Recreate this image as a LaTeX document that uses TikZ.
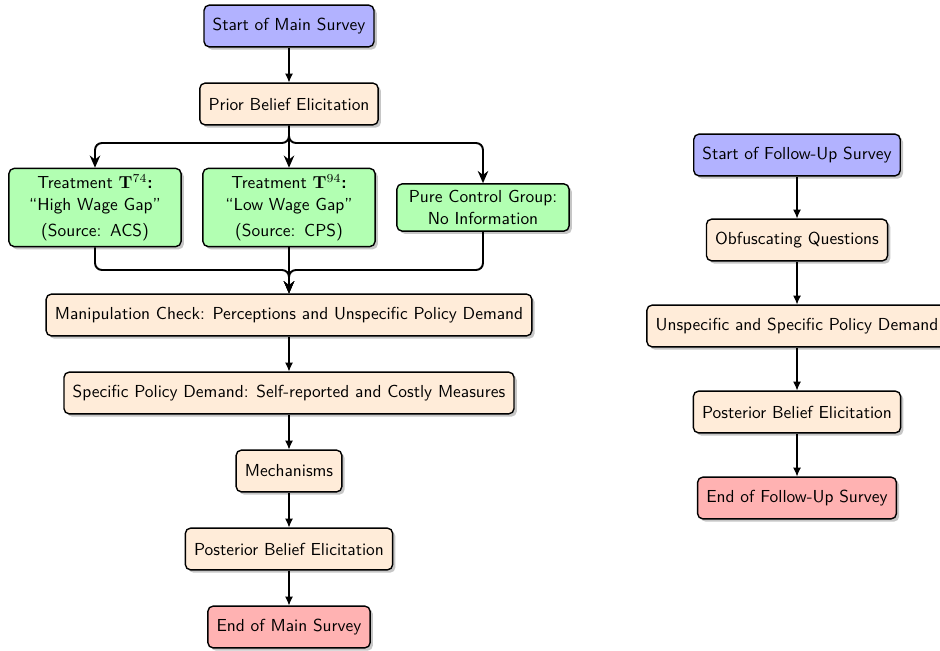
\documentclass[tikz,border=0pt]{standalone}
\usetikzlibrary{arrows.meta,shadows,positioning}
\renewcommand{\familydefault}{\sfdefault}
\begin{document}
\begin{tikzpicture}[x=0.575pt,y=-0.575pt,
  box/.style={draw=black, line width=0.8pt, rounded corners=3pt, minimum height=24pt,
    inner xsep=5pt, inner ysep=4pt, align=center, font=\sffamily,
    drop shadow={opacity=0.45, shadow xshift=1.6pt, shadow yshift=-1.6pt}},
  startbox/.style={box, fill=blue!30},
  midbox/.style={box, fill=orange!15},
  treatbox/.style={box, fill=green!30, text width=89pt, inner ysep=3.5pt},
  endbox/.style={box, fill=red!30},
  arr/.style={-{Latex[length=5pt,width=4.5pt]}, line width=0.6pt},
  br/.style={-{Stealth[length=7pt,width=6pt]}, line width=1.1pt, rounded corners=4pt}]
\useasboundingbox (0,0) rectangle (940,651);
% main survey
\node[startbox] (s1) at (289,26) {Start of Main Survey};
\node[midbox] (prior) at (289,104) {Prior Belief Elicitation};
\node[treatbox] (t74) at (95,207.5) {Treatment $\mathbf{T}^{74}$\textbf{:}\\[0.8pt]``High Wage Gap''\\[2.5pt](Source: ACS)};
\node[treatbox] (t94) at (289,207.5) {Treatment $\mathbf{T}^{94}$\textbf{:}\\[0.8pt]``Low Wage Gap''\\[2.5pt](Source: CPS)};
\node[treatbox] (ctrl) at (483,207.5) {Pure Control Group:\\[1pt]No Information};
\node[midbox] (manip) at (289,315) {Manipulation Check: Perceptions and Unspecific Policy Demand};
\node[midbox] (spec) at (289,393) {Specific Policy Demand: Self-reported and Costly Measures};
\node[midbox] (mech) at (289,471) {Mechanisms};
\node[midbox] (post1) at (289,549) {Posterior Belief Elicitation};
\node[endbox] (e1) at (289,627) {End of Main Survey};
\coordinate (split) at (289,143);
\coordinate (merge) at (289,270);
\draw[arr] (s1) -- (prior);
\draw[br] (prior.south) -- (split) -| (t74.north);
\draw[br] (prior.south) -- (split) -| (ctrl.north);
\draw[br] (prior.south) -- (t94.north);
\draw[br] (t74.south) |- (merge) -- (manip.north);
\draw[br] (ctrl.south) |- (merge) -- (manip.north);
\draw[br] (t94.south) -- (manip.north);
\draw[arr] (manip) -- (spec);
\draw[arr] (spec) -- (mech);
\draw[arr] (mech) -- (post1);
\draw[arr] (post1) -- (e1);
% follow-up survey
\node[startbox] (s2) at (797,155) {Start of Follow-Up Survey};
\node[midbox] (obf) at (797,240) {Obfuscating Questions};
\node[midbox] (uns) at (797,326) {Unspecific and Specific Policy Demand};
\node[midbox] (post2) at (797,412) {Posterior Belief Elicitation};
\node[endbox] (e2) at (797,498) {End of Follow-Up Survey};
\draw[arr] (s2) -- (obf);
\draw[arr] (obf) -- (uns);
\draw[arr] (uns) -- (post2);
\draw[arr] (post2) -- (e2);
\end{tikzpicture}
\end{document}
